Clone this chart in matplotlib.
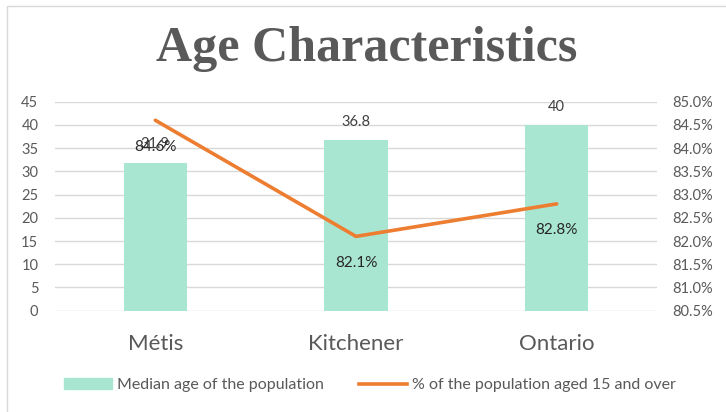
import matplotlib
matplotlib.use("Agg")
import matplotlib.pyplot as plt
from matplotlib.patches import Rectangle
from matplotlib.ticker import FuncFormatter, MultipleLocator

# Data
categories = ["Métis", "Kitchener", "Ontario"]
median_age = [31.9, 36.8, 40]
pct_15_over = [84.6, 82.1, 82.8]
age_labels = ["31.9", "36.8", "40"]
pct_labels = ["84.6%", "82.1%", "82.8%"]

plt.rcParams["font.family"] = ["Lato", "DejaVu Sans"]
W, H = 726, 412
fig = plt.figure(figsize=(W / 100, H / 100), dpi=100)

# Chart border (only top/left visible in the crop)
fig.patches.append(Rectangle((7 / W, -0.1), 1.2, 1.1 - 6 / H, transform=fig.transFigure,
                             fill=False, edgecolor="#d9d9d9", linewidth=1))

ax = fig.add_axes([55 / W, (H - 310.7) / H, (657 - 55) / W, (310.7 - 101.7) / H])
x = range(len(categories))
ax.bar(x, median_age, width=0.314, color="#a9e6d1", zorder=2)
ax.set_xlim(-0.5, 2.5)
ax.set_ylim(0, 45)
ax.yaxis.set_major_locator(MultipleLocator(5))
ax.grid(axis="y", color="#d9d9d9", linewidth=1, zorder=0)
ax.set_axisbelow(True)
for s in ax.spines.values():
    s.set_visible(False)
ax.tick_params(axis="y", length=0, pad=12, labelsize=10.5, labelcolor="#595959")
ax.tick_params(axis="x", length=0, pad=17, labelsize=16, labelcolor="#595959")
ax.set_xticks(list(x))
ax.set_xticklabels(categories)

ax2 = ax.twinx()
ax2.plot(x, pct_15_over, color="#ed7d31", linewidth=2.6, solid_capstyle="round", zorder=3)
ax2.set_ylim(80.5, 85.0)
ax2.yaxis.set_major_locator(MultipleLocator(0.5))
ax2.yaxis.set_major_formatter(FuncFormatter(lambda v, p: f"{v:.1f}%"))
for s in ax2.spines.values():
    s.set_visible(False)
ax2.tick_params(axis="y", length=0, pad=11, labelsize=10.5, labelcolor="#595959")

# Data labels
for i, (v, t) in enumerate(zip(median_age, age_labels)):
    ax.annotate(t, (i, v), xytext=(0, 13), textcoords="offset points",
                ha="center", va="center", fontsize=10.5, color="#404040")
for i, (v, t) in enumerate(zip(pct_15_over, pct_labels)):
    ax2.annotate(t, (i, v), xytext=(0, -19), textcoords="offset points",
                 ha="center", va="center", fontsize=11, color="#262626")

fig.text(367 / W, 1 - 49 / H, "Age Characteristics", ha="center", va="center",
         fontsize=36, fontweight="bold", color="#595959", family="Liberation Serif")

handles = [Rectangle((0, 0), 1, 1, color="#a9e6d1"),
           plt.Line2D([0], [0], color="#ed7d31", linewidth=2.6)]
fig.legend(handles, ["Median age of the population", "% of the population aged 15 and over"],
           loc="center", bbox_to_anchor=(370 / W, 1 - 385 / H), ncol=2, frameon=False,
           fontsize=11.5, labelcolor="#595959", handlelength=3, handletextpad=0.3,
           columnspacing=2.2)

fig.savefig("out.png", dpi=100)
